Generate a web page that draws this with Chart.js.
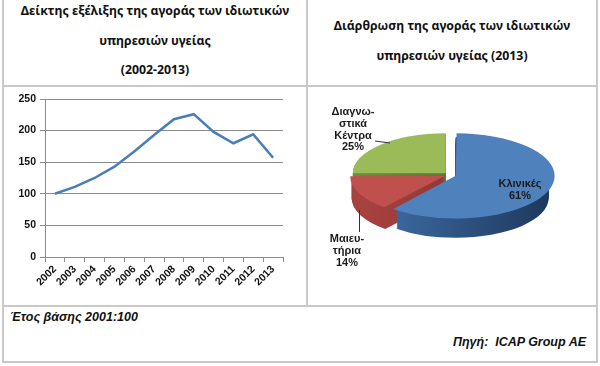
<!DOCTYPE html>
<html>
<head>
<meta charset="utf-8">
<script src="https://cdn.jsdelivr.net/npm/chart.js@4.4.1/dist/chart.umd.min.js"></script>
<style>
  html, body { margin: 0; padding: 0; background: #fff; }
  #wrap { position: relative; width: 600px; height: 366px; overflow: hidden; font-family: 'Liberation Sans', Arial, sans-serif; color: #111; }
  .ln { position: absolute; background: #c9c9c9; }
  .title { position: absolute; text-align: center; font-family: 'Noto Sans', sans-serif; font-weight: bold; font-size: 12.3px; line-height: 29.5px; white-space: nowrap; }
  .note { position: absolute; font-weight: bold; font-style: italic; font-size: 12.5px; white-space: nowrap; }
  canvas { position: absolute; }
</style>
</head>
<body>
<div id="wrap">
  <!-- γραμμές πίνακα -->
  <div class="ln" style="left:2px; top:0; width:2px; height:363px;"></div>
  <div class="ln" style="left:596px; top:0; width:2px; height:363px;"></div>
  <div class="ln" style="left:306px; top:0; width:2px; height:306px;"></div>
  <div class="ln" style="left:2px; top:85px; width:596px; height:2px;"></div>
  <div class="ln" style="left:2px; top:305px; width:596px; height:2px;"></div>
  <div class="ln" style="left:2px; top:361px; width:596px; height:2px;"></div>

  <div class="title" style="left:4px; width:302px; top:-4px;">Δείκτης εξέλιξης της αγοράς των ιδιωτικών<br>υπηρεσιών υγείας<br>(2002-2013)</div>
  <div class="title" style="left:308px; width:288px; top:11px;">Διάρθρωση της αγοράς των ιδιωτικών<br>υπηρεσιών υγείας (2013)</div>

  <canvas id="lineChart" style="left:3px; top:87px;" width="303" height="218"></canvas>
  <canvas id="pieChart" style="left:308px; top:87px;" width="288" height="218"></canvas>

  <div class="note" style="left:10px; top:310px;">Έτος βάσης 2001:100</div>
  <div class="note" style="right:14px; top:335px;">Πηγή:&nbsp; ICAP Group AE</div>
</div>

<script>
// Δεδομένα δείκτη (2001 = 100)
const years = ['2002', '2003', '2004', '2005', '2006', '2007', '2008', '2009', '2010', '2011', '2012', '2013'];
const indexValues = [100, 111, 125, 143, 167, 193, 218, 226, 198, 180, 194, 157];
const yMin = 0;
const yMax = 250;
const yStep = 50;

// Δεδομένα πίτας (2013)
const segmentNames = [['Κλινικές'], ['Μαιευ-', 'τήρια'], ['Διαγνω-', 'στικά', 'Κέντρα']];
const segmentShares = [61, 14, 25];
const segmentColors = ['#4f81bd', '#c0504d', '#9bbb59'];
const sideColors = [['#4272ad', '#1f3a60'], ['#a8423f', '#7c2e2c'], ['#6f8a3a', '#4f6228']];

const tickFont = { family: "'Liberation Sans', Arial, sans-serif", size: 10.5, weight: 'bold' };

// Γράφημα γραμμής
new Chart(document.getElementById('lineChart'), {
    type: 'line',
    data: {
        labels: years,
        datasets: [{
            data: indexValues,
            borderColor: '#4a7ebb',
            borderWidth: 2.5,
            pointRadius: 0,
            tension: 0
        }]
    },
    options: {
        responsive: false,
        animation: false,
        events: [],
        layout: { padding: { top: 12, right: 23, left: 0, bottom: 0 } },
        plugins: { legend: { display: false }, tooltip: { enabled: false } },
        scales: {
            x: {
                offset: true,
                grid: { offset: true, drawOnChartArea: false, tickLength: 5, color: '#8c8c8c' },
                border: { color: '#8c8c8c' },
                ticks: { color: '#111', font: tickFont, minRotation: 45, maxRotation: 45, autoSkip: false, padding: 1 },
                afterFit: s => { s.height = 48; }
            },
            y: {
                min: yMin,
                max: yMax,
                grid: { color: '#8c8c8c', tickLength: 5 },
                border: { color: '#8c8c8c' },
                ticks: { stepSize: yStep, color: '#111', font: tickFont, padding: 4 },
                afterFit: s => { s.width = 42; }
            }
        }
    }
});

// Τρισδιάστατη εμφάνιση πίτας
const SY = 0.43;
const DEPTH = 22;
const PIE_CX = 142;
const PIE_CY = 88;

const pie3d = {
    id: 'pie3d',
    beforeDatasetsDraw(chart) {
        const ctx = chart.ctx;
        const arcs = chart.getDatasetMeta(0).data;
        const cx = arcs[0].x, cy = arcs[0].y, r = arcs[0].outerRadius;
        ctx.save();
        ctx.translate(PIE_CX, PIE_CY);
        ctx.scale(1, SY);
        ctx.translate(-cx, -cy);
        const fills = sideColors.map(c => {
            const g = ctx.createLinearGradient(cx - r, 0, cx + r, 0);
            g.addColorStop(0, c[0]);
            g.addColorStop(1, c[1]);
            return g;
        });
        for (let d = DEPTH; d >= 1; d--) {
            arcs.forEach((arc, i) => {
                const mid = (arc.startAngle + arc.endAngle) / 2;
                const off = (arc.options.offset || 0) / 4;
                const ox = arc.x + Math.cos(mid) * off;
                const oy = arc.y + Math.sin(mid) * off + d / SY;
                ctx.beginPath();
                ctx.moveTo(ox, oy);
                ctx.arc(ox, oy, arc.outerRadius, arc.startAngle, arc.endAngle);
                ctx.closePath();
                ctx.fillStyle = fills[i];
                ctx.fill();
            });
        }
    },
    afterDatasetsDraw(chart) {
        const ctx = chart.ctx;
        ctx.restore();
        ctx.save();
        ctx.fillStyle = '#1a1a1a';
        ctx.font = "bold 11px 'Liberation Sans', Arial, sans-serif";
        ctx.textAlign = 'center';
        ctx.textBaseline = 'middle';
        // θέσεις ετικετών σε σχέση με το κέντρο
        const spots = [[70, 9], [-103, 64], [-97, -63]];
        const lh = 11.8;
        segmentNames.forEach((lines, i) => {
            const all = lines.concat([segmentShares[i] + '%']);
            all.forEach((t, k) => ctx.fillText(t, PIE_CX + spots[i][0], PIE_CY + spots[i][1] + k * lh));
        });
        ctx.strokeStyle = '#333';
        ctx.lineWidth = 1;
        ctx.beginPath();
        ctx.moveTo(PIE_CX - 75, PIE_CY - 34);
        ctx.lineTo(PIE_CX - 60, PIE_CY - 32);
        ctx.moveTo(PIE_CX - 90.5, PIE_CY + 35);
        ctx.lineTo(PIE_CX - 90.5, PIE_CY + 57);
        ctx.stroke();
        ctx.restore();
    }
};

new Chart(document.getElementById('pieChart'), {
    type: 'pie',
    data: {
        labels: segmentNames.map(n => n.join('')),
        datasets: [{
            data: segmentShares,
            backgroundColor: segmentColors,
            borderWidth: 0,
            offset: 24
        }]
    },
    options: {
        responsive: false,
        animation: false,
        events: [],
        layout: { padding: { top: 4, bottom: 4, left: 39, right: 39 } },
        plugins: { legend: { display: false }, tooltip: { enabled: false } }
    },
    plugins: [pie3d]
});
</script>
</body>
</html>
